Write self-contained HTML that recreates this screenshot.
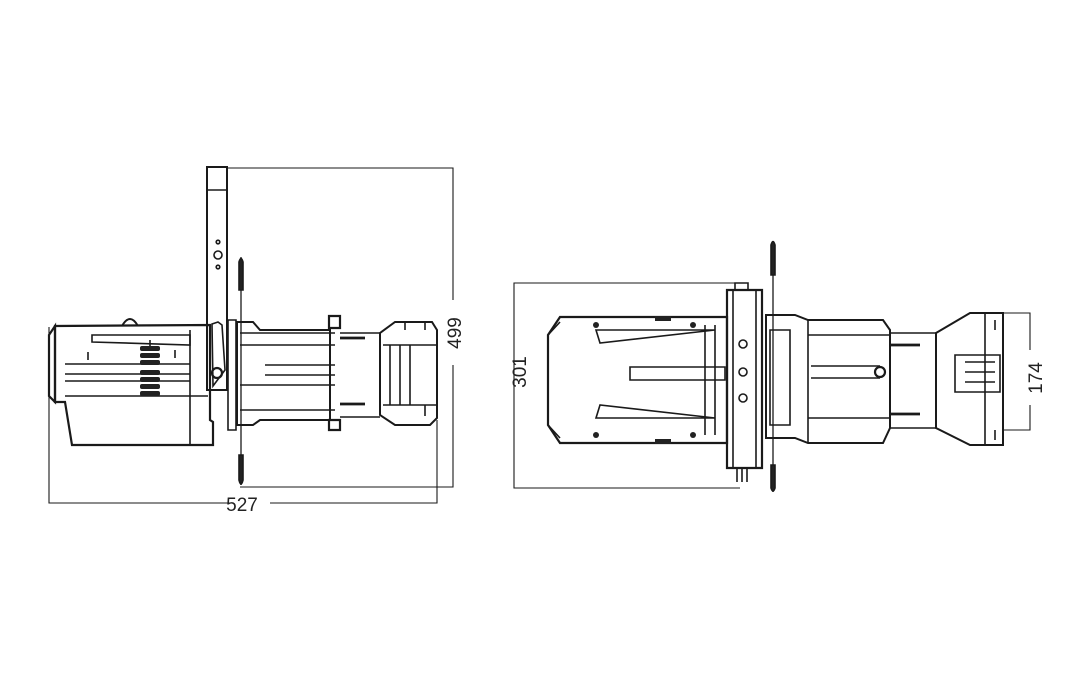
<!DOCTYPE html>
<html><head><meta charset="utf-8"><style>
html,body{margin:0;padding:0;background:#fff;width:1067px;height:680px;overflow:hidden}
svg{display:block}
text{font-family:"Liberation Sans",sans-serif;font-size:19px;fill:#222}
</style></head><body>
<svg width="1067" height="680" viewBox="0 0 1067 680" xmlns="http://www.w3.org/2000/svg">
<g fill="none" stroke="#1a1a1a" stroke-width="1.6">
<!-- LEFT dimensions -->
<path d="M227 168H453V300M453 365V487H240" stroke-width="1.1"/>
<path d="M49 327V503H230M270 503H437V420" stroke-width="1.1"/>
<text x="242" y="511" text-anchor="middle" stroke="none" fill="#222">527</text>
<text transform="translate(461 333) rotate(-90)" text-anchor="middle" stroke="none">499</text>
<!-- yoke -->
<path d="M207 167H227V390H207Z" stroke-width="2"/>
<path d="M207 190H227"/>
<circle cx="218" cy="255" r="4"/><circle cx="218" cy="242" r="1.8"/><circle cx="218" cy="267" r="1.8"/>
<!-- rear housing -->
<path d="M55 326L210 325V420L213 422V445H72L65 402H55Z" stroke-width="2.2"/>
<path d="M49 335L55 326V402L49 396Z" stroke-width="2.2"/>
<path d="M122 326Q130 312 138 326" stroke-width="2"/>
<path d="M92 335H190V345L92 342Z" stroke-width="1.6"/>
<path d="M65 364H190M65 374H190M65 381H190M65 396H208M190 330V445" />
<path d="M150 340V350M88 352V360M175 350V358"/>
<g fill="#222" stroke="none">
<rect x="140" y="346" width="20" height="5" rx="2"/><rect x="140" y="353" width="20" height="5" rx="2"/><rect x="140" y="360" width="20" height="5" rx="2"/>
<rect x="140" y="370" width="20" height="5" rx="2"/><rect x="140" y="377" width="20" height="5" rx="2"/><rect x="140" y="384" width="20" height="5" rx="2"/><rect x="140" y="391" width="20" height="5" rx="2"/>
</g>
<path d="M212 324L218 322L222 325L225 370L213 386Z" stroke-width="1.6"/>
<circle cx="217" cy="373" r="5" stroke-width="2.2"/>
<path d="M228 320V430H236V320Z"/>
<!-- handle -->
<path d="M241 257V485" stroke-width="1.3"/>
<path d="M239 262Q241 255 243 262V290H239Z" fill="#222"/>
<path d="M239 455H243V480Q241 488 239 480Z" fill="#222"/>
<!-- barrel -->
<path d="M237 322H253L260 330H330V420H260L253 425H237Z" stroke-width="2"/>
<path d="M240 333H335M240 345H335M240 385H335M240 410H335"/>
<path d="M265 365H335M265 375H335"/>
<path d="M329 316H340V328H329ZM329 420H340V430H329Z" stroke-width="2.2"/>
<path d="M340 338H365M340 404H365" stroke-width="2.8"/>
<path d="M340 333H380M340 417H380"/>
<!-- front -->
<path d="M380 333L395 322H432L437 330V418L430 425H395L380 415Z" stroke-width="2"/>
<path d="M383 345H437M383 405H437M390 345V405M400 345V405M410 345V405"/>
<path d="M405 322V330M425 322V330M425 405V416"/>
<!-- RIGHT dimensions -->
<path d="M735 283H514V488H740" stroke-width="1.1"/>
<text transform="translate(526 372) rotate(-90)" text-anchor="middle" stroke="none">301</text>
<path d="M1003 313H1030V350M1030 405V430H1003" stroke-width="1.1"/>
<text transform="translate(1042 378) rotate(-90)" text-anchor="middle" stroke="none">174</text>
<!-- main body -->
<path d="M560 317H727V443H560L548 425V335Z" stroke-width="2.2"/>
<path d="M548 335L560 322M548 425L560 438"/>
<path d="M596 330H715L600 343ZM596 418H715L600 405Z"/>
<path d="M630 367H725V380H630Z"/>
<path d="M715 325V435M705 325V435"/>
<g fill="#222" stroke="none">
<circle cx="596" cy="325" r="3"/><circle cx="596" cy="435" r="3"/><circle cx="693" cy="325" r="3"/><circle cx="693" cy="435" r="3"/>
<rect x="655" y="316" width="16" height="5"/><rect x="655" y="439" width="16" height="5"/>
</g>
<!-- yoke plate -->
<path d="M727 290H762V468H727Z" stroke-width="2.2"/>
<path d="M733 290V468M756 290V468"/>
<path d="M735 283H748V290H735Z"/>
<path d="M737 468V482M742 468V482M747 468V482"/>
<circle cx="743" cy="344" r="4"/><circle cx="743" cy="372" r="4"/><circle cx="743" cy="398" r="4"/>
<!-- handle right -->
<path d="M773 241V492" stroke-width="1.3"/>
<path d="M771 245Q773 238 775 245V275H771Z" fill="#222"/>
<path d="M771 465H775V488Q773 494 771 488Z" fill="#222"/>
<!-- front section -->
<path d="M766 315H795L808 320H883L890 330V428L883 443H808L795 438H766Z" stroke-width="2"/>
<path d="M770 330H790V425H770Z"/>
<path d="M808 320V443M808 335H890M808 418H890"/>
<path d="M811 366H880M811 378H880"/>
<circle cx="880" cy="372" r="5" stroke-width="2.2"/>
<path d="M890 345H920M890 414H920" stroke-width="2.8"/>
<path d="M890 333H936M890 428H936"/>
<path d="M936 333L970 313H1003V445H970L936 428Z" stroke-width="2"/>
<path d="M985 313V445M995 320V330M995 430V440"/>
<path d="M955 355H1000V392H955Z"/>
<path d="M965 362H995M965 372H995M965 382H995"/>
</g>
</svg>
</body></html>
